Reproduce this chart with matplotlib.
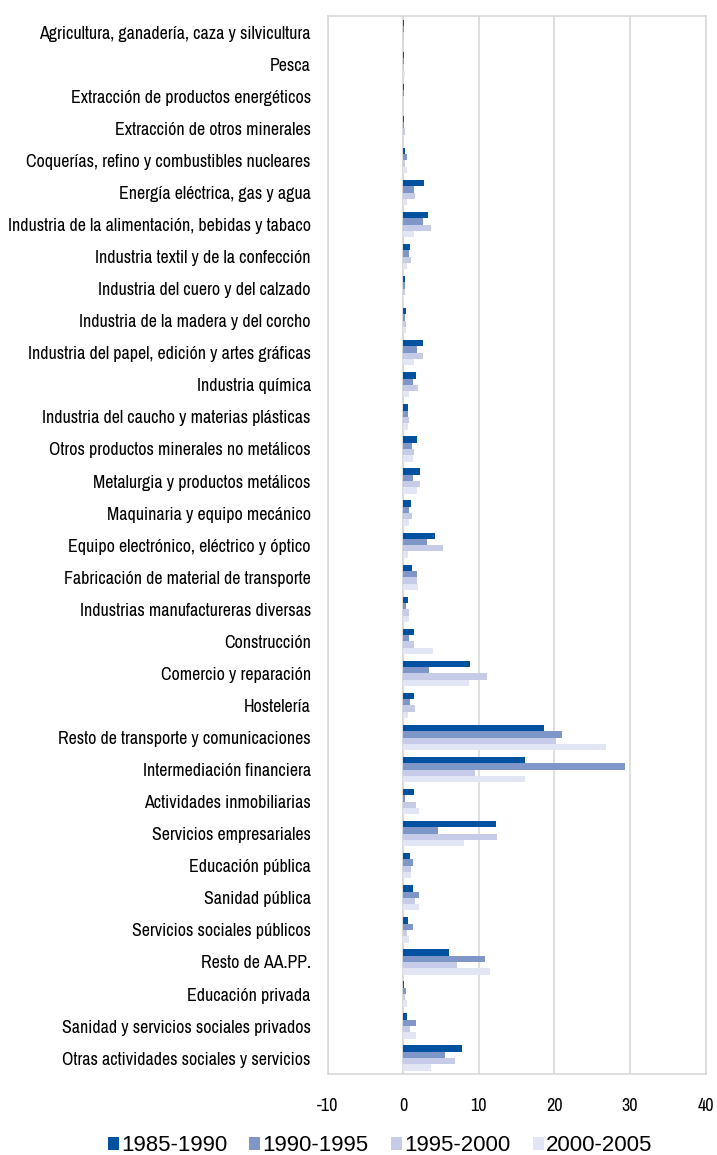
import numpy as np
import matplotlib
matplotlib.use('Agg')
import matplotlib.pyplot as plt

plt.rcParams['font.family'] = ['Archivo Narrow', 'Liberation Sans', 'DejaVu Sans']
plt.rcParams['axes.unicode_minus'] = False

# Sectors, top to bottom
sectors = [
    'Agricultura, ganadería, caza y silvicultura',
    'Pesca',
    'Extracción de productos energéticos',
    'Extracción de otros minerales',
    'Coquerías, refino y combustibles nucleares',
    'Energía eléctrica, gas y agua',
    'Industria de la alimentación, bebidas y tabaco',
    'Industria textil y de la confección',
    'Industria del cuero y del calzado',
    'Industria de la madera y del corcho',
    'Industria del papel, edición y artes gráficas',
    'Industria química',
    'Industria del caucho y materias plásticas',
    'Otros productos minerales no metálicos',
    'Metalurgia y productos metálicos',
    'Maquinaria y equipo mecánico',
    'Equipo electrónico, eléctrico y óptico',
    'Fabricación de material de transporte',
    'Industrias manufactureras diversas',
    'Construcción',
    'Comercio y reparación',
    'Hostelería',
    'Resto de transporte y comunicaciones',
    'Intermediación financiera',
    'Actividades inmobiliarias',
    'Servicios empresariales',
    'Educación pública',
    'Sanidad pública',
    'Servicios sociales públicos',
    'Resto de AA.PP.',
    'Educación privada',
    'Sanidad y servicios sociales privados',
    'Otras actividades sociales y servicios',
]

periods = ['1985-1990', '1990-1995', '1995-2000', '2000-2005']

v_1985_1990 = [0.1, 0.1, 0.1, 0.1, 0.25, 2.8, 3.3, 0.9, 0.25, 0.4, 2.65, 1.7,
               0.65, 1.85, 2.25, 1.05, 4.2, 1.2, 0.65, 1.45, 8.85, 1.45, 18.6, 16.1,
               1.45, 12.3, 0.9, 1.3, 0.65, 6.1, 0.1, 0.5, 7.8]
v_1990_1995 = [0.1, 0.05, 0.1, 0.05, 0.5, 1.45, 2.65, 0.8, 0.25, 0.25, 1.85, 1.3,
               0.65, 1.2, 1.3, 0.8, 3.2, 1.85, 0.4, 0.8, 3.45, 0.9, 21.0, 29.3,
               0.25, 4.6, 1.3, 2.1, 1.3, 10.8, 0.4, 1.7, 5.55]
v_1995_2000 = [0.05, 0.05, 0.0, 0.25, 0.25, 1.6, 3.7, 1.05, 0.25, 0.4, 2.65, 2.0,
               0.8, 1.45, 2.25, 1.2, 5.3, 1.85, 0.8, 1.45, 11.1, 1.6, 20.2, 9.5,
               1.7, 12.4, 1.05, 1.6, 0.5, 7.1, 0.25, 0.9, 6.9]
v_2000_2005 = [0.0, 0.25, 0.0, 0.0, 0.5, 0.5, 1.45, 0.5, 0.05, 0.4, 1.45, 0.8,
               0.65, 1.3, 1.85, 0.8, 0.65, 2.0, 0.8, 4.0, 8.7, 0.65, 26.8, 16.1,
               2.1, 8.05, 1.05, 2.1, 0.8, 11.5, 0.5, 1.7, 3.7]

series = [v_1985_1990, v_1990_1995, v_1995_2000, v_2000_2005]
colors = ['#0052A0', '#7F96C8', '#C6CCE8', '#E1E5F4']

fig = plt.figure(figsize=(7.17, 11.55), dpi=100)
ax = fig.add_axes([0.4568, 0.070, 0.5272, 0.916])

y = np.arange(len(sectors))
h = 0.197
for i, (vals, c, lab) in enumerate(zip(series, colors, periods)):
    ax.barh(y - 1.5 * h + i * h, vals, height=h, color=c, label=lab, zorder=3)

ax.set_xlim(-10, 40)
ax.set_ylim(len(sectors) - 0.5, -0.5)
ax.set_xticks([-10, 0, 10, 20, 30, 40])
ax.set_yticks(y)
ax.set_yticklabels(sectors, fontsize=12.9)
ax.tick_params(axis='both', length=0)
ax.tick_params(axis='x', labelsize=13, pad=17)
ax.tick_params(axis='y', pad=12)
ax.xaxis.grid(True, color='#D9D9D9', linewidth=1.2, zorder=0)
ax.axvline(0, color='#D9D9D9', linewidth=1.2, zorder=1)
for s in ax.spines.values():
    s.set_color('#D9D9D9')
    s.set_linewidth(1.2)

fig.legend(loc='center', bbox_to_anchor=(0.53, 0.008), ncol=4, frameon=False,
           prop={'family': ['Liberation Sans', 'DejaVu Sans'], 'size': 16},
           handlelength=0.5, handleheight=0.5, handletextpad=0.1,
           columnspacing=1.0)

fig.savefig('out.png', dpi=100)
